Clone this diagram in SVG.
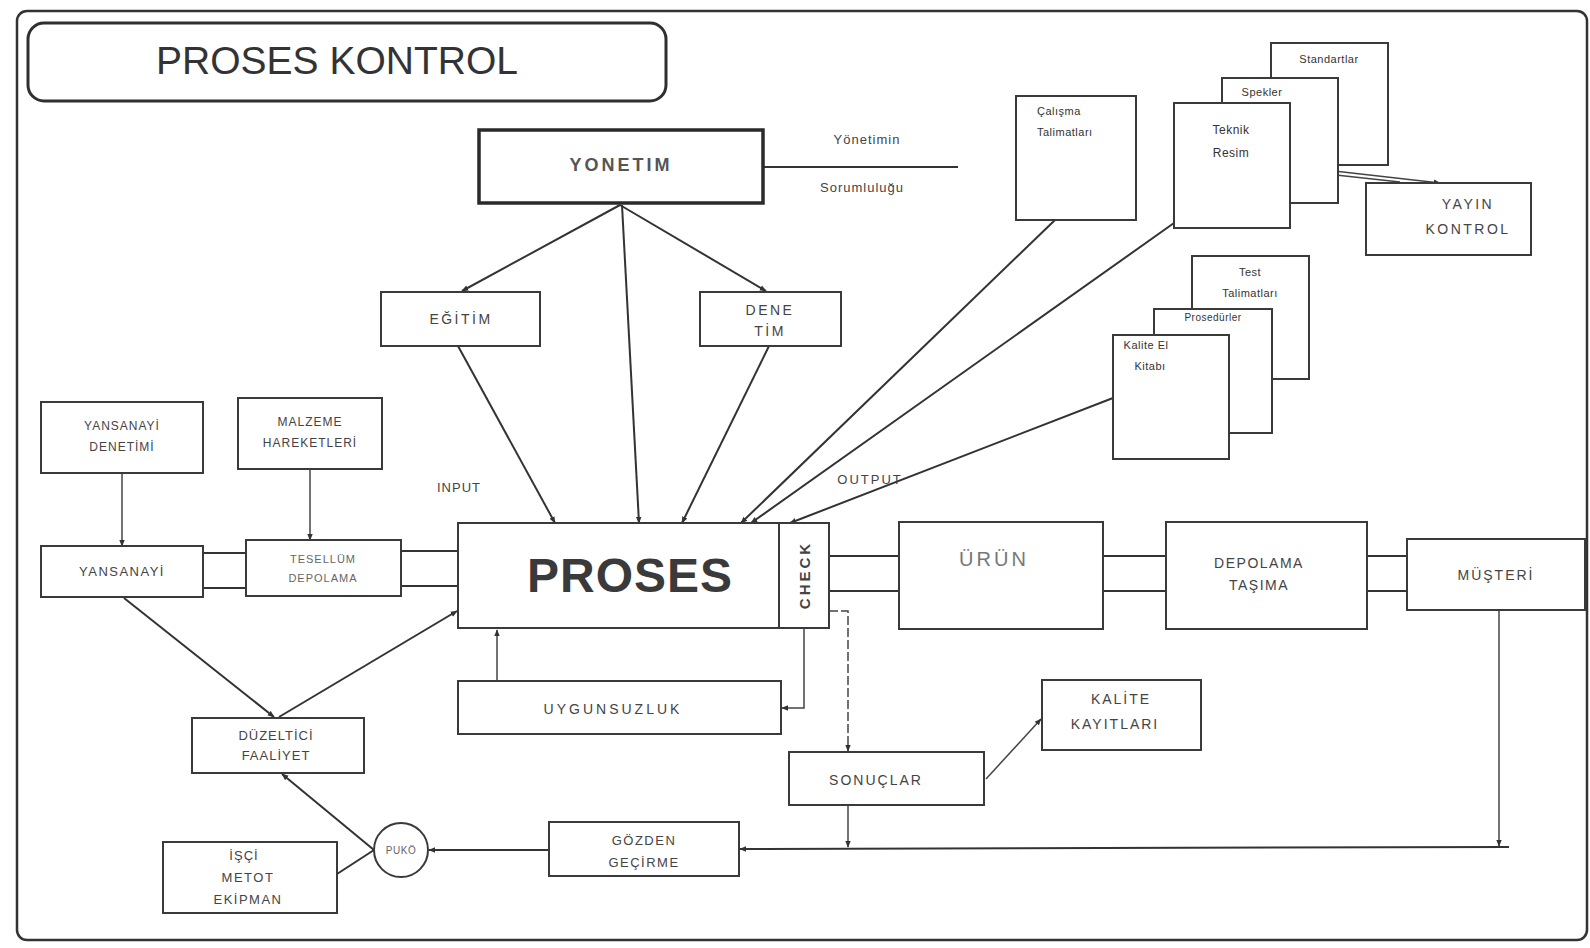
<svg xmlns="http://www.w3.org/2000/svg" width="1590" height="948" viewBox="0 0 1590 948">
<style>
.bx{fill:#fff;stroke:#3a3a3a;stroke-width:2}
.bk{fill:#fff;stroke:#2a2a2a;stroke-width:3.5}
.t{font-family:"Liberation Sans",Arial,sans-serif;font-size:14px;fill:#444;text-anchor:middle;letter-spacing:2.5px}
.ts{font-family:"Liberation Sans",Arial,sans-serif;font-size:11px;fill:#333;text-anchor:middle;letter-spacing:0.5px}
.ln{stroke:#333;stroke-width:2;fill:none}
.lt{stroke:#444;stroke-width:1.5;fill:none}
.ar{marker-end:url(#ah)}
</style>
<defs>
<marker id="ah" viewBox="0 0 10 10" refX="9" refY="5" markerWidth="7" markerHeight="7" orient="auto" markerUnits="userSpaceOnUse">
<path d="M0,1 L10,5 L0,9 z" fill="#333"/>
</marker>
</defs>
<rect x="0" y="0" width="1590" height="948" fill="#fff"/>
<rect id="frame" x="17" y="11" width="1570" height="929" rx="10" fill="none" stroke="#333" stroke-width="2.5"/>

<g id="title">
<rect x="28" y="23" width="638" height="78" rx="16" fill="#fff" stroke="#2f2f2f" stroke-width="3"/>
<text x="337" y="74" style="font-family:'Liberation Sans',Arial,sans-serif;font-size:39px;fill:#333" text-anchor="middle">PROSES KONTROL</text>
</g>

<g id="connectors">
<line class="ln ar" x1="620" y1="205" x2="462" y2="291"/>
<line class="ln ar" x1="620" y1="205" x2="766" y2="291"/>
<line class="ln ar" x1="622" y1="205" x2="639" y2="523"/>
<line class="ln" x1="763" y1="167" x2="958" y2="167"/>
<line class="ln ar" x1="458" y1="346" x2="555" y2="523"/>
<line class="ln ar" x1="769" y1="346" x2="682" y2="523"/>
<line class="ln ar" x1="1055" y1="220" x2="741" y2="523"/>
<line class="ln ar" x1="1174" y1="223" x2="751" y2="523"/>
<line class="ln ar" x1="1113" y1="398" x2="790" y2="523"/>
<line class="lt ar" x1="1290" y1="166" x2="1440" y2="183"/>
<line class="lt" x1="1290" y1="170" x2="1400" y2="182"/>
<line class="lt ar" x1="122" y1="473" x2="122" y2="546"/>
<line class="lt ar" x1="310" y1="469" x2="310" y2="540"/>
<line class="ln" x1="203" y1="553" x2="246" y2="553"/>
<line class="ln" x1="203" y1="588" x2="246" y2="588"/>
<line class="ln" x1="401" y1="551" x2="458" y2="551"/>
<line class="ln" x1="401" y1="586" x2="458" y2="586"/>
<line class="ln ar" x1="124" y1="598" x2="274" y2="717"/>
<line class="ln ar" x1="279" y1="717" x2="457" y2="611"/>
<line class="ln" x1="829" y1="556" x2="899" y2="556"/>
<line class="ln" x1="829" y1="591" x2="899" y2="591"/>
<line class="ln" x1="1103" y1="556" x2="1166" y2="556"/>
<line class="ln" x1="1103" y1="591" x2="1166" y2="591"/>
<line class="ln" x1="1367" y1="556" x2="1407" y2="556"/>
<line class="ln" x1="1367" y1="591" x2="1407" y2="591"/>
<line class="lt ar" x1="497" y1="681" x2="497" y2="630"/>
<polyline class="lt ar" points="804,629 804,708 782,708"/>
<polyline class="lt ar" stroke-dasharray="9 3" points="829,611 848,611 848,751"/>
<line class="lt ar" x1="848" y1="805" x2="848" y2="847"/>
<line class="lt ar" x1="986" y1="779" x2="1041" y2="719"/>
<line class="lt ar" x1="1499" y1="610" x2="1499" y2="846"/>
<line class="ln ar" x1="1509" y1="847" x2="740" y2="849"/>
<line class="ln ar" x1="549" y1="850" x2="429" y2="850"/>
<line class="ln ar" x1="374" y1="850" x2="282" y2="774"/>
<line class="ln" x1="337" y1="874" x2="374" y2="850"/>
</g>

<g id="yonetim">
<rect class="bk" x="479" y="130" width="284" height="73"/>
<text class="t" x="621" y="171" style="font-size:18px;letter-spacing:3px;font-weight:bold;fill:#555">YONETIM</text>
</g>
<g id="sorumluluk">
<text class="t" x="867" y="144" style="font-size:13px;letter-spacing:1px">Yönetimin</text>
<text class="t" x="862" y="192" style="font-size:13px;letter-spacing:1px">Sorumluluğu</text>
</g>
<g id="egitim">
<rect class="bx" x="381" y="292" width="159" height="54"/>
<text class="t" x="461" y="324">EĞİTİM</text>
</g>
<g id="denetim">
<rect class="bx" x="700" y="292" width="141" height="54"/>
<text class="t" x="770" y="315">DENE</text>
<text class="t" x="770" y="336">TİM</text>
</g>

<g id="calisma">
<rect class="bx" x="1016" y="96" width="120" height="124"/>
<text class="ts" x="1037" y="115" style="text-anchor:start">Çalışma</text>
<text class="ts" x="1037" y="136" style="text-anchor:start">Talimatları</text>
</g>
<g id="standartlar">
<rect class="bx" x="1271" y="43" width="117" height="122"/>
<text class="ts" x="1329" y="63">Standartlar</text>
</g>
<g id="spekler">
<rect class="bx" x="1222" y="78" width="116" height="125"/>
<text class="ts" x="1262" y="96">Spekler</text>
</g>
<g id="teknik-resim">
<rect class="bx" x="1174" y="103" width="116" height="125"/>
<text class="ts" x="1231" y="134" style="font-size:12px">Teknik</text>
<text class="ts" x="1231" y="157" style="font-size:12px">Resim</text>
</g>
<g id="yayin-kontrol">
<rect class="bx" x="1366" y="183" width="165" height="72"/>
<text class="t" x="1468" y="209">YAYIN</text>
<text class="t" x="1468" y="234">KONTROL</text>
</g>

<g id="test-talimatlari">
<rect class="bx" x="1192" y="256" width="117" height="123"/>
<text class="ts" x="1250" y="276">Test</text>
<text class="ts" x="1250" y="297">Talimatları</text>
</g>
<g id="prosedurler">
<rect class="bx" x="1154" y="309" width="118" height="124"/>
<text class="ts" x="1213" y="321" style="font-size:10px">Prosedürler</text>
</g>
<g id="kalite-el-kitabi">
<rect class="bx" x="1113" y="335" width="116" height="124"/>
<text class="ts" x="1146" y="349">Kalite El</text>
<text class="ts" x="1150" y="370">Kitabı</text>
</g>

<g id="labels">
<text class="t" x="459" y="492" style="font-size:13px;letter-spacing:1px">INPUT</text>
<text class="t" x="870" y="484" style="font-size:13px;letter-spacing:2px">OUTPUT</text>
</g>

<g id="yansanayi-denetimi">
<rect class="bx" x="41" y="402" width="162" height="71"/>
<text class="t" x="122" y="430" style="font-size:12px;letter-spacing:1px">YANSANAYİ</text>
<text class="t" x="122" y="451" style="font-size:12px;letter-spacing:1px">DENETİMİ</text>
</g>
<g id="malzeme-hareketleri">
<rect class="bx" x="238" y="398" width="144" height="71"/>
<text class="t" x="310" y="426" style="font-size:12px;letter-spacing:1px">MALZEME</text>
<text class="t" x="310" y="447" style="font-size:12px;letter-spacing:1px">HAREKETLERİ</text>
</g>
<g id="yansanayi">
<rect class="bx" x="41" y="546" width="162" height="51"/>
<text class="t" x="122" y="576" style="font-size:13px;letter-spacing:1.5px">YANSANAYİ</text>
</g>
<g id="tesellum-depolama">
<rect class="bx" x="246" y="540" width="155" height="56"/>
<text class="t" x="323" y="563" style="font-size:11px;letter-spacing:1px;fill:#666">TESELLÜM</text>
<text class="t" x="323" y="582" style="font-size:11px;letter-spacing:1px;fill:#666">DEPOLAMA</text>
</g>

<g id="proses">
<rect class="bx" x="458" y="523" width="321" height="105"/>
<text x="630" y="592" style="font-family:'Liberation Sans',Arial,sans-serif;font-size:48px;font-weight:bold;fill:#3a3a3a;letter-spacing:1px" text-anchor="middle">PROSES</text>
</g>
<g id="check">
<rect class="bx" x="779" y="523" width="50" height="105"/>
<text class="t" transform="translate(810,575) rotate(-90)" x="0" y="0" style="font-size:15px;font-weight:bold;letter-spacing:3px;fill:#444">CHECK</text>
</g>
<g id="uygunsuzluk">
<rect class="bx" x="458" y="681" width="323" height="53"/>
<text class="t" x="613" y="714" style="font-size:14px;letter-spacing:3px">UYGUNSUZLUK</text>
</g>

<g id="urun">
<rect class="bx" x="899" y="522" width="204" height="107"/>
<text class="t" x="994" y="566" style="font-size:20px;letter-spacing:3px;fill:#777">ÜRÜN</text>
</g>
<g id="depolama-tasima">
<rect class="bx" x="1166" y="522" width="201" height="107"/>
<text class="t" x="1259" y="568" style="font-size:14px;letter-spacing:1.5px">DEPOLAMA</text>
<text class="t" x="1259" y="590" style="font-size:14px;letter-spacing:1.5px">TAŞIMA</text>
</g>
<g id="musteri">
<rect class="bx" x="1407" y="539" width="178" height="71"/>
<text class="t" x="1496" y="580" style="font-size:14px;letter-spacing:2px">MÜŞTERİ</text>
</g>

<g id="duzeltici-faaliyet">
<rect class="bx" x="192" y="718" width="172" height="55"/>
<text class="t" x="276" y="740" style="font-size:13px;letter-spacing:1px">DÜZELTİCİ</text>
<text class="t" x="276" y="760" style="font-size:13px;letter-spacing:1px">FAALİYET</text>
</g>
<g id="sonuclar">
<rect class="bx" x="789" y="752" width="195" height="53"/>
<text class="t" x="876" y="785" style="font-size:14px;letter-spacing:2px">SONUÇLAR</text>
</g>
<g id="kalite-kayitlari">
<rect class="bx" x="1042" y="680" width="159" height="70"/>
<text class="t" x="1121" y="704" style="font-size:14px;letter-spacing:2px">KALİTE</text>
<text class="t" x="1115" y="729" style="font-size:14px;letter-spacing:2px">KAYITLARI</text>
</g>
<g id="isci-metot-ekipman">
<rect class="bx" x="163" y="842" width="174" height="71"/>
<text class="t" x="244" y="860" style="font-size:13px;letter-spacing:1px">İŞÇİ</text>
<text class="t" x="248" y="882" style="font-size:13px;letter-spacing:1.5px">METOT</text>
<text class="t" x="248" y="904" style="font-size:13px;letter-spacing:1.5px">EKİPMAN</text>
</g>
<g id="puko">
<circle cx="401" cy="850" r="27" fill="#fff" stroke="#3a3a3a" stroke-width="2"/>
<text class="t" x="401" y="854" style="font-size:10px;letter-spacing:0.5px;fill:#666">PUKÖ</text>
</g>
<g id="gozden-gecirme">
<rect class="bx" x="549" y="822" width="190" height="54"/>
<text class="t" x="644" y="845" style="font-size:13px;letter-spacing:1.5px">GÖZDEN</text>
<text class="t" x="644" y="867" style="font-size:13px;letter-spacing:1.5px">GEÇİRME</text>
</g>
</svg>
